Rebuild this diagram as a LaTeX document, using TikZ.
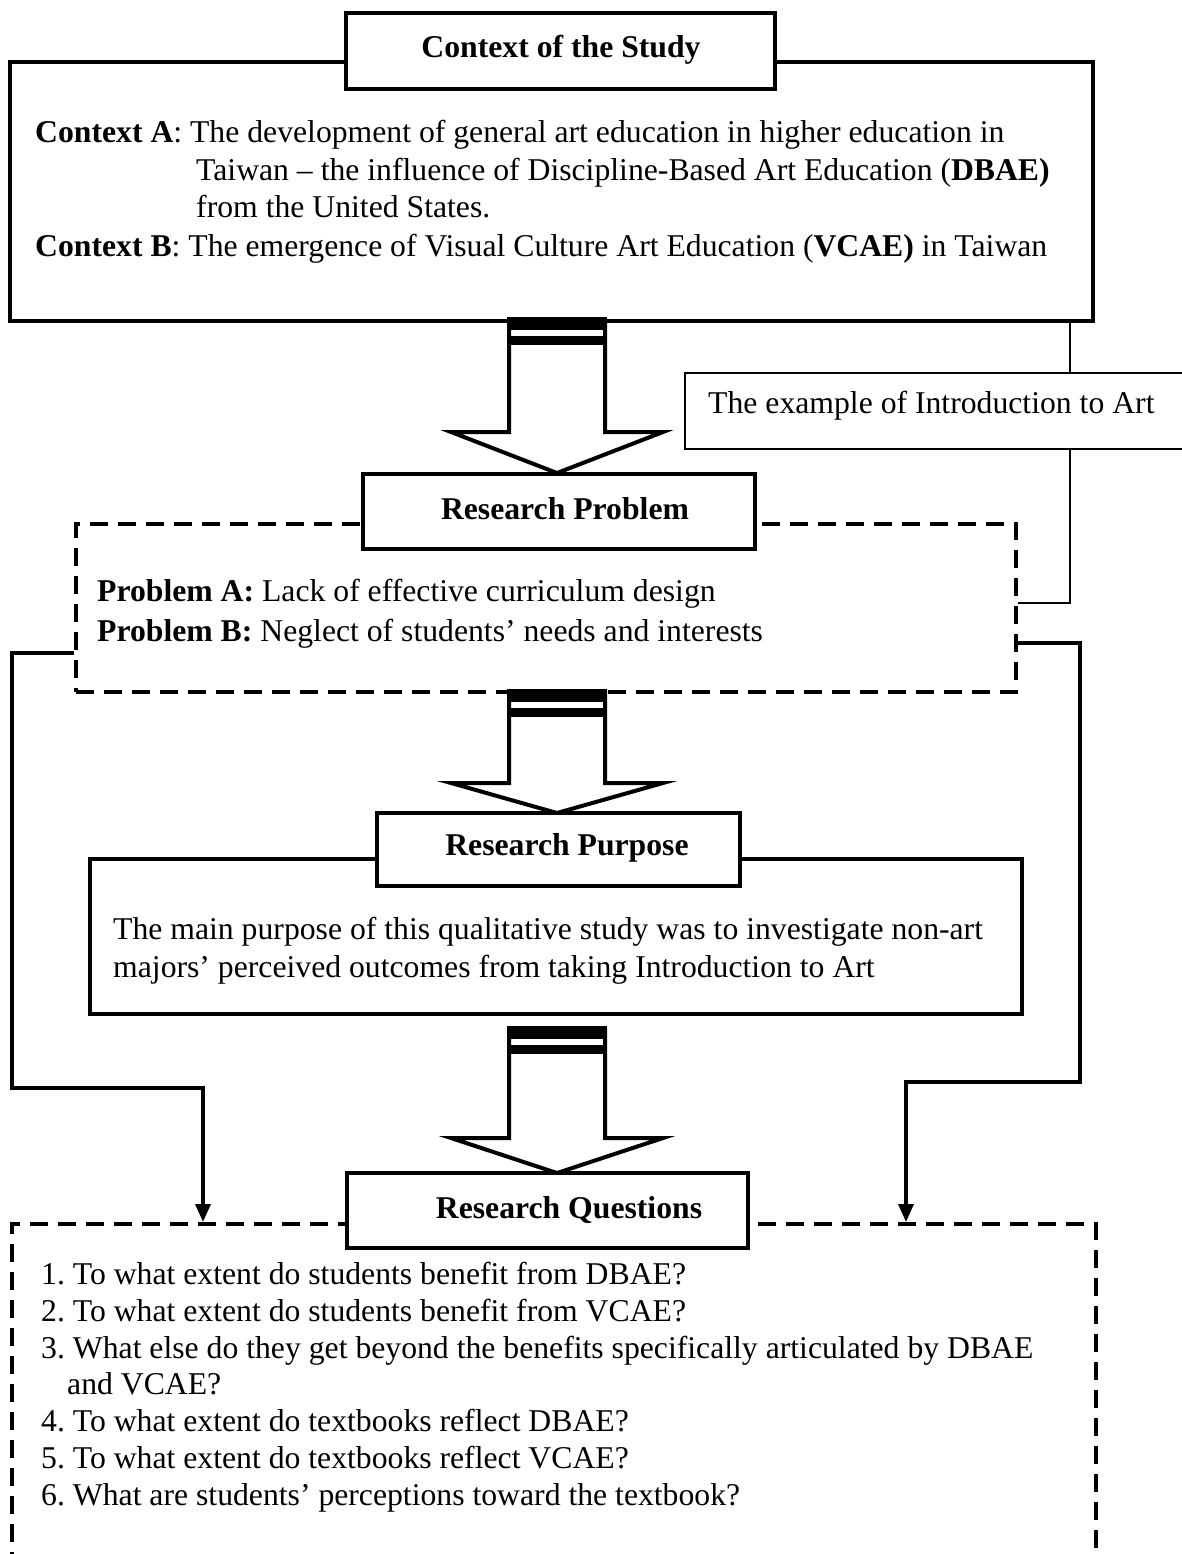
\documentclass[tikz,border=0pt]{standalone}
\usepackage{fontspec}
\setmainfont{Liberation Serif}
\usetikzlibrary{arrows.meta}
\frenchspacing
\newcommand\blkarrow[4]{% #1 name, #2 top y, #3 head base y, #4 tip y
  \draw[blockarr] (509,#2) -- (509,#3) -- (451,#3) -- (557,#4) -- (663,#3) -- (605,#3) -- (605,#2);
  \fill (507,#2-1) rectangle (607,#2+12);
  \fill (507,#2+18) rectangle (607,#2+27);
  \coordinate (#1) at (557,#4);}
\begin{document}
\begin{tikzpicture}[x=1pt,y=-1pt,
  body/.style={anchor=base west, inner sep=0pt, font=\fontsize{31.7}{37}\selectfont},
  titlebox/.style={draw, line width=4pt, fill=white, inner sep=0pt},
  titletext/.style={inner sep=0pt, font=\fontsize{31.7}{37}\selectfont\bfseries},
  solidbox/.style={draw, line width=4pt, inner sep=0pt},
  dashbox/.style={draw, line width=4pt, dash pattern=on 18pt off 10pt, inner sep=0pt},
  exbox/.style={draw, line width=2pt, inner sep=0pt},
  thinconn/.style={line width=2pt},
  conn/.style={line width=3.5pt, line join=miter},
  blockarr/.style={line width=4pt, fill=white, line join=miter},
  arr/.style={-{Triangle[length=18pt,width=15pt]}}]
\useasboundingbox (0,0) rectangle (1181,1554);
\fill[white] (0,0) rectangle (1181,1554);

% ---- Context box ----
\node[solidbox, minimum width=1083pt, minimum height=259pt] (ctx) at (551.5,191.5) {};
\node[body] (ca1) at (35,143) {\textbf{Context A}: The development of general art education in higher education in};
\node[body] (ca2) at (196,181) {Taiwan -- the influence of Discipline-Based Art Education (\textbf{DBAE)}};
\node[body] (ca3) at (196,218) {from the United States.};
\node[body] (cb1) at (35,256) {\textbf{Context B}: The emergence of Visual Culture Art Education (\textbf{VCAE)} in Taiwan};

% ---- example box ----
\node[exbox, minimum width=510pt, minimum height=76pt] (ex) at (940,411) {};
\node[body] (ext) at (708,413) {The example of Introduction to Art};

% ---- problem box ----
\node[dashbox, minimum width=940pt, minimum height=168pt] (prob) at (546,608) {};
\node[body] (pa) at (97,601) {\textbf{Problem A:} Lack of effective curriculum design};
\node[body] (pb) at (97,641) {\textbf{Problem B:} Neglect of students' needs and interests};

% ---- purpose box ----
\node[solidbox, minimum width=932pt, minimum height=155pt] (purp) at (556,936.5) {};
\node[body] (pu1) at (113,939) {The main purpose of this qualitative study was to investigate non-art};
\node[body] (pu2) at (113,977) {majors' perceived outcomes from taking Introduction to Art};

% ---- questions box ----
\node[dashbox, minimum width=1084pt, minimum height=360pt] (ques) at (554,1404) {};
\node[body] (q1) at (41,1284) {1. To what extent do students benefit from DBAE?};
\node[body] (q2) at (41,1321) {2. To what extent do students benefit from VCAE?};
\node[body] (q3) at (41,1358) {3. What else do they get beyond the benefits specifically articulated by DBAE};
\node[body] (q3b) at (67,1394) {and VCAE?};
\node[body] (q4) at (41,1431) {4. To what extent do textbooks reflect DBAE?};
\node[body] (q5) at (41,1468) {5. To what extent do textbooks reflect VCAE?};
\node[body] (q6) at (41,1505) {6. What are students' perceptions toward the textbook?};

% ---- block arrows ----
\blkarrow{a1}{318}{432}{473}
\blkarrow{a2}{690}{783}{813}
\blkarrow{a3}{1027}{1138}{1173}

% ---- title boxes ----
\node[titlebox, minimum width=429pt, minimum height=76pt] (t1) at (560,51) {};
\node[titletext] (t1t) at (561,50) {Context of the Study};
\node[titlebox, minimum width=392pt, minimum height=75pt] (t2) at (559,511) {};
\node[titletext] (t2t) at (565,509) {Research Problem};
\node[titlebox, minimum width=363pt, minimum height=73pt] (t3) at (558.5,849) {};
\node[titletext] (t3t) at (567,848) {Research Purpose};
\node[titlebox, minimum width=401pt, minimum height=75pt] (t4) at (547.5,1210.5) {};
\node[titletext] (t4t) at (569,1210) {Research Questions};

% ---- connectors ----
\coordinate (exX) at (1070,0);
\coordinate (lX) at (12,0);
\coordinate (lX2) at (203,0);
\coordinate (rX) at (1080,0);
\coordinate (rX2) at (906,0);
\coordinate (lowY) at (0,1088);
\coordinate (lowY2) at (0,1082);
\draw[thinconn] (ctx.south -| exX) -- (ex.north -| exX);
\draw[thinconn] (ex.south -| exX) |- ([yshift=5pt]prob.east);
\draw[conn, arr] ([yshift=-45pt]prob.west) -| (lX |- lowY) -| (ques.north -| lX2);
\draw[conn, arr] ([yshift=-35pt]prob.east) -| (rX |- lowY2) -| (ques.north -| rX2);
\end{tikzpicture}
\end{document}
